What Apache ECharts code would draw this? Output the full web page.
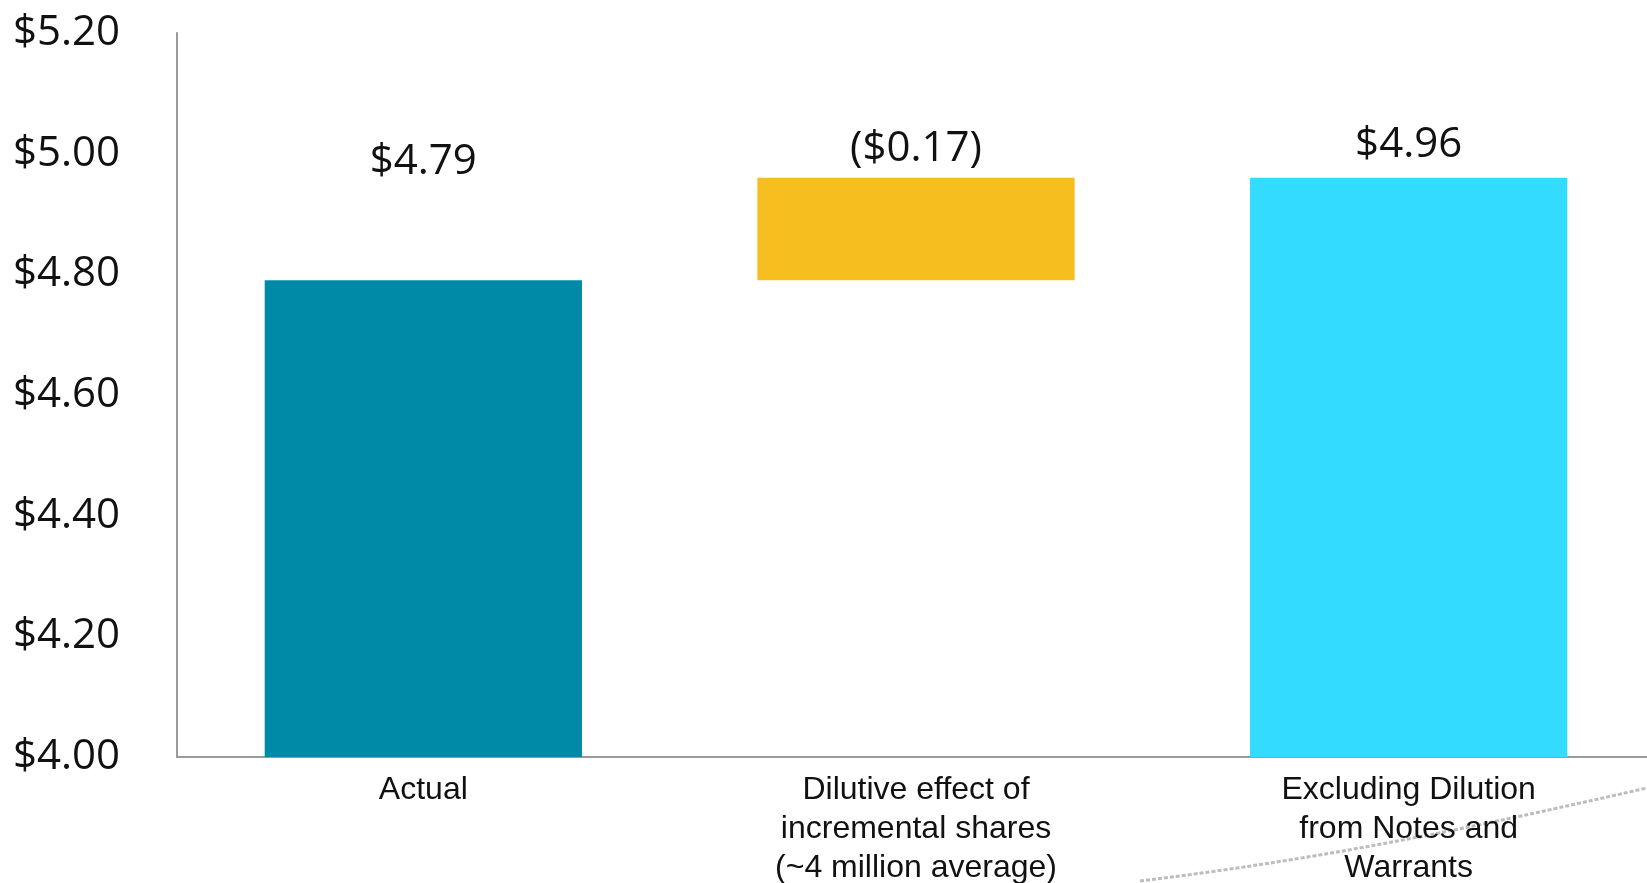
<!DOCTYPE html>
<html>
<head>
<meta charset="utf-8">
<script src="https://cdn.jsdelivr.net/npm/echarts@6/dist/echarts.min.js"></script>
<style>
  html, body { margin: 0; padding: 0; background: #ffffff; }
  #chart { width: 1647px; height: 883px; }
</style>
</head>
<body>
<div id="chart"></div>
<script>
// EPS bridge: actual, dilution effect, and EPS excluding dilution
const categories = ['Actual', 'Dilutive effect of\nincremental shares\n(~4 million average)', 'Excluding Dilution\nfrom Notes and\nWarrants'];
const actualEps = 4.79;
const dilutionEffect = 0.17;
const excludingDilutionEps = 4.96;
const valueLabels = ['$4.79', '($0.17)', '$4.96'];
const yTicks = { min: 4.0, max: 5.2, interval: 0.2 };
const barColors = ['#008AA8', '#F6BE1E', '#33DBFF'];

// Floating-bar layout: base segment (hidden under the middle bar) + step segment
const baseValues = [actualEps, actualEps, excludingDilutionEps];
const stepValues = ['-', dilutionEffect, '-'];

const chart = echarts.init(document.getElementById('chart'), null, { renderer: 'canvas' });

const labelFont = '"Open Sans", "Noto Sans", sans-serif';

chart.setOption({
  backgroundColor: '#ffffff',
  animation: false,
  grid: { left: 177, right: -8, top: 33, bottom: 126, containLabel: false, outerBoundsMode: 'none' },
  xAxis: {
    type: 'category',
    data: categories,
    axisLine: { show: true, lineStyle: { color: '#9a9a9a', width: 2 } },
    axisTick: { show: false },
    axisLabel: {
      interval: 0,
      margin: 14,
      color: '#111111',
      fontFamily: '"Liberation Sans", Arial, sans-serif',
      fontSize: 32,
      lineHeight: 39
    }
  },
  yAxis: {
    type: 'value',
    min: yTicks.min,
    max: yTicks.max,
    interval: yTicks.interval,
    splitLine: { show: false },
    axisTick: { show: false },
    axisLine: { show: true, lineStyle: { color: '#9a9a9a', width: 2 } },
    axisLabel: {
      margin: 57,
      color: '#111111',
      fontFamily: labelFont,
      fontSize: 42,
      formatter: v => '$' + v.toFixed(2)
    }
  },
  series: [
    {
      type: 'bar',
      stack: 'bridge',
      barCategoryGap: '35.6%',
      data: baseValues.map((v, i) => ({
        value: v,
        itemStyle: { color: i === 1 ? 'rgba(0,0,0,0)' : barColors[i] },
        label: {
          show: i !== 1,
          position: 'top',
          distance: i === 0 ? 97 : 12,
          formatter: () => valueLabels[i]
        }
      })),
      label: { color: '#111111', fontFamily: labelFont, fontSize: 42 }
    },
    {
      type: 'bar',
      stack: 'bridge',
      data: stepValues.map((v, i) => (v === '-' ? '-' : {
        value: v,
        itemStyle: { color: barColors[i] },
        label: {
          show: true,
          position: 'top',
          distance: 8,
          formatter: () => valueLabels[i]
        }
      })),
      label: { color: '#111111', fontFamily: labelFont, fontSize: 42 }
    }
  ],
  graphic: [
    {
      // decorative dashed swoosh along the lower right edge
      type: 'bezierCurve',
      silent: true,
      z: -1,
      shape: { x1: 1140, y1: 881, x2: 1647, y2: 788, cpx1: 1330, cpy1: 858, cpx2: 1480, cpy2: 826 },
      style: { stroke: '#bdbdbd', lineWidth: 3, lineDash: [4, 2], fill: null }
    }
  ]
});
</script>
</body>
</html>
